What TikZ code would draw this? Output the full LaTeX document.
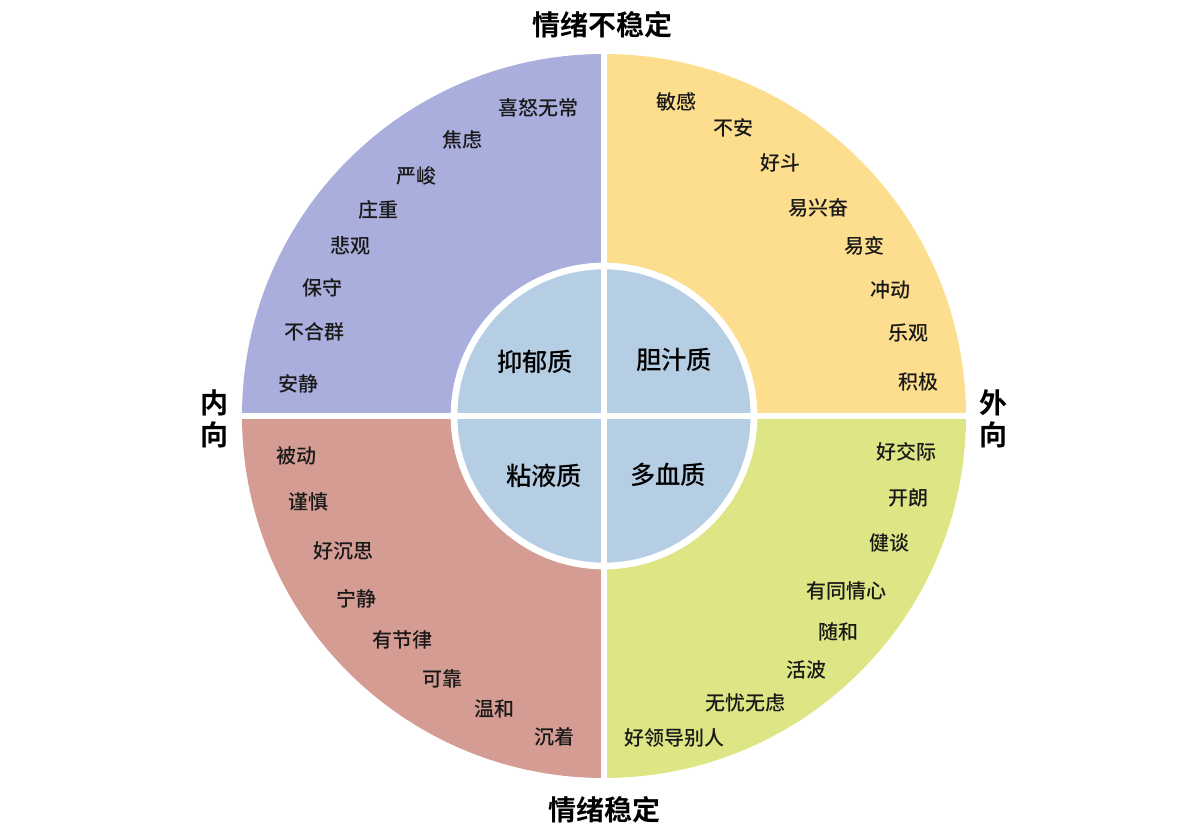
\documentclass[tikz,border=0pt]{standalone}
\usepackage{fontspec}
\setmainfont{Noto Sans CJK SC}
\newfontfamily\cjkb{Noto Sans CJK SC Bold}
\newfontfamily\cjkm{Noto Sans CJK SC Medium}
\definecolor{cTL}{HTML}{AAAEDC}
\definecolor{cTR}{HTML}{FDDE8E}
\definecolor{cBL}{HTML}{D49C93}
\definecolor{cBR}{HTML}{DDE584}
\definecolor{cIn}{HTML}{B5CEE4}
\tikzset{trait/.style={font=\cjkm\fontsize{15}{15}\selectfont, text=black!90, inner sep=0pt},
 axis/.style={font=\cjkb\fontsize{21}{24}\selectfont, align=center, inner sep=0pt},
 core/.style={font=\cjkm\fontsize{19}{19}\selectfont, inner sep=0pt}}
\begin{document}
\begin{tikzpicture}[x=0.75pt,y=-0.75pt]
\useasboundingbox (0,0) rectangle (1200,838);
\coordinate (c) at (604,416);
\begin{scope}
\clip (c) circle[radius=362];
\fill[cTL] (c) rectangle (200,40);
\fill[cTR] (c) rectangle (1000,40);
\fill[cBR] (c) rectangle (1000,800);
\fill[cBL] (c) rectangle (200,800);
\end{scope}
\draw[white,line width=5pt] (604,50) -- (604,782) (238,416) -- (970,416);
\draw[white,line width=5pt,fill=cIn] (c) circle[radius=150];
\draw[white,line width=4pt] (604,266) -- (604,566) (454,416) -- (754,416);
% outer labels
\node[axis] (top) at (602,25) {情绪不稳定};
\node[axis] (bot) at (604,810) {情绪稳定};
\node[axis] (lft) at (214,419) {内\\向};
\node[axis] (rgt) at (993,419) {外\\向};
% cores
\node[core] (k1) at (535,362) {抑郁质};
\node[core] (k2) at (674,360) {胆汁质};
\node[core] (k3) at (544,476) {粘液质};
\node[core] (k4) at (668,475) {多血质};
% TL
\foreach \t/\x/\y [count=\i] in {喜怒无常/538/108,焦虑/462/140,严峻/416/176,庄重/378/210,悲观/350/246,保守/322/288,不合群/314/332,安静/298/384}
  \node[trait] (a\i) at (\x,\y) {\t};
% TR
\foreach \t/\x/\y [count=\i] in {敏感/676/102,不安/733/128,好斗/780/163,易兴奋/818/208,易变/864/246,冲动/890/290,乐观/908/333,积极/918/382}
  \node[trait] (b\i) at (\x,\y) {\t};
% BL
\foreach \t/\x/\y [count=\i] in {被动/296/456,谨慎/308/502,好沉思/343/551,宁静/356/599,有节律/402/640,可靠/442/679,温和/494/709,沉着/554/737}
  \node[trait] (d\i) at (\x,\y) {\t};
% BR
\foreach \t/\x/\y [count=\i] in {好交际/906/452,开朗/908/498,健谈/889/543,有同情心/846/591,随和/838/632,活波/806/670,无忧无虑/745/703,好领导别人/674/738}
  \node[trait] (e\i) at (\x,\y) {\t};
\end{tikzpicture}
\end{document}
